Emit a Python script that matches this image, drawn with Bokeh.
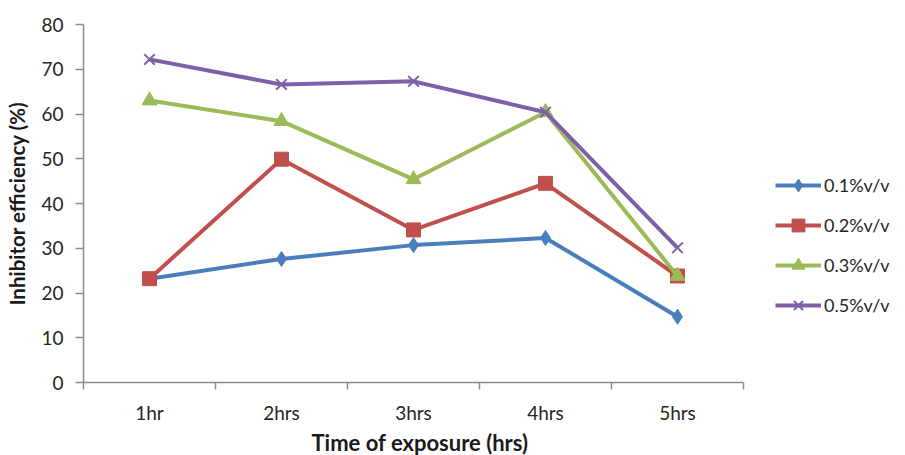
from bokeh.plotting import figure
from bokeh.models import FixedTicker, Legend, Range1d, Title
from bokeh.embed import file_html
from bokeh.resources import INLINE

categories = ["1hr", "2hrs", "3hrs", "4hrs", "5hrs"]
series_names = ["0.1%v/v", "0.2%v/v", "0.3%v/v", "0.5%v/v"]
s01 = [23.2, 27.6, 30.7, 32.3, 14.7]
s02 = [23.2, 49.9, 34.1, 44.5, 23.8]
s03 = [63.0, 58.4, 45.4, 60.4, 23.8]
s05 = [72.2, 66.6, 67.3, 60.4, 30.1]
y_ticks = [0, 10, 20, 30, 40, 50, 60, 70, 80]
x_title = "Time of exposure (hrs)"
y_title = "Inhibitor efficiency (%)"

colors = ["#4A7EBB", "#C0504D", "#9BBB59", "#7F60A8"]
markers = ["diamond", "square", "triangle", "x"]
sizes = [15, 14, 15, 15]

FONT = "Lato"

n = len(categories)
x = list(range(1, n + 1))

# frame spans to the right edge; the axis line is bounded to the category area
W, H = 905, 455
LEFT, RIGHT_AXIS_END = 83, 743
cat_px = (RIGHT_AXIS_END - LEFT) / n
x_end = 0.5 + (W - LEFT) / cat_px

p = figure(width=W, height=H, output_backend="svg", toolbar_location=None,
           x_range=Range1d(0.5, x_end), y_range=Range1d(0, 80))
p.min_border_left = LEFT
p.min_border_top = 24
p.min_border_bottom = 72
p.min_border_right = 0
p.outline_line_color = None
p.xgrid.grid_line_color = None
p.ygrid.grid_line_color = None
p.background_fill_color = "white"

items = []
for name, ys, c, m, s in zip(series_names, [s01, s02, s03, s05], colors, markers, sizes):
    r1 = p.line(x, ys, line_color=c, line_width=4)
    if m == "x":
        r2 = p.scatter(x, ys, marker=m, size=s, line_color=c, line_width=2)
    else:
        r2 = p.scatter(x, ys, marker=m, size=s, fill_color=c, line_color=c)
    items.append((name, [r1, r2]))

# axes
p.xaxis.bounds = (0.5, n + 0.5)
p.xaxis.ticker = FixedTicker(ticks=x, minor_ticks=[v + 0.5 for v in range(0, n + 1)])
p.xaxis.major_label_overrides = {i: c for i, c in zip(x, categories)}
p.xaxis.major_tick_out = 0
p.xaxis.major_tick_in = 0
p.xaxis.minor_tick_out = 7
p.xaxis.minor_tick_in = 0
p.xaxis.minor_tick_line_color = "#8c8c8c"
p.xaxis.minor_tick_line_width = 1.5
p.xaxis.major_label_standoff = 11

p.yaxis.ticker = FixedTicker(ticks=y_ticks)
p.yaxis.major_tick_out = 8
p.yaxis.major_tick_in = 0
p.yaxis.minor_tick_line_color = None
p.yaxis.major_tick_line_color = "#8c8c8c"
p.yaxis.major_tick_line_width = 1.5
p.yaxis.major_label_standoff = 12
p.yaxis.axis_label = y_title
p.yaxis.axis_label_standoff = 9
p.yaxis.axis_label_text_font_size = "20.5px"

for ax in [p.xaxis, p.yaxis]:
    ax.axis_line_color = "#8c8c8c"
    ax.axis_line_width = 1.5
    ax.major_label_text_font = FONT
    ax.major_label_text_font_size = "19px"
    ax.major_label_text_color = "#262626"
    ax.axis_label_text_font = FONT
    ax.axis_label_text_font_style = "bold"
    ax.axis_label_text_color = "#1a1a1a"

# x-axis title, centred under the category area (not the whole frame)
xt = Title(text=x_title, align="left", offset=311 - LEFT, standoff=0,
           text_font=FONT, text_font_size="22px", text_font_style="bold",
           text_color="#1a1a1a")
p.add_layout(xt, "below")

legend = Legend(items=items, location=(775 - LEFT, 383 - 322))
legend.border_line_color = None
legend.background_fill_alpha = 0
legend.glyph_width = 46
legend.glyph_height = 32
legend.spacing = 8
legend.label_standoff = 3
legend.padding = 0
legend.margin = 0
legend.label_text_font = FONT
legend.label_text_font_size = "18px"
legend.label_text_color = "#262626"
p.add_layout(legend, "center")

open("out.html", "w").write(file_html(p, INLINE))
